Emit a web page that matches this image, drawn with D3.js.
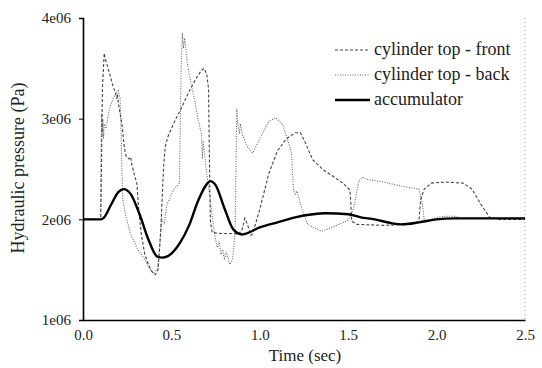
<!DOCTYPE html>
<html><head><meta charset="utf-8">
<script src="https://cdn.jsdelivr.net/npm/d3@7"></script>
<style>
html,body{margin:0;padding:0;background:#fff;}
svg{display:block;}
</style></head>
<body><svg id="chart" width="542" height="368"></svg>
<script>
// ---- data (pressure in units of 1e6 Pa) ----
const accT = [0,0.1,0.12,0.16,0.2,0.23,0.27,0.32,0.37,0.42,0.45,0.5,0.55,0.6,0.65,0.7,0.72,0.75,0.8,0.85,0.9,1.0,1.1,1.2,1.3,1.37,1.5,1.57,1.65,1.75,1.8,1.9,2.0,2.1,2.5];
const accP = [2.0,2.0,2.02,2.15,2.27,2.30,2.25,2.05,1.80,1.63,1.62,1.66,1.77,1.94,2.18,2.35,2.38,2.34,2.11,1.90,1.85,1.92,1.97,2.02,2.05,2.06,2.05,2.02,2.0,1.96,1.95,1.97,2.0,2.01,2.01];

const frontT = [0,0.1,0.105,0.11,0.12,0.125,0.15,0.17,0.185,0.19,0.195,0.2,0.22,0.235,0.245,0.26,0.27,0.275,0.29,0.305,0.315,0.33,0.35,0.37,0.39,0.41,0.425,0.44,0.455,0.465,0.48,0.52,0.56,0.6,0.64,0.67,0.685,0.7,0.71,0.715,0.72,0.73,0.78,0.85,0.88,0.9,0.915,0.93,0.95,0.96,1.0,1.05,1.1,1.15,1.2,1.23,1.26,1.3,1.36,1.42,1.47,1.51,1.515,1.52,1.55,1.7,1.85,1.9,1.91,1.93,1.97,2.05,2.15,2.2,2.25,2.3,2.35,2.5];
const frontP = [2.0,2.0,2.6,3.3,3.65,3.6,3.45,3.32,3.25,3.2,3.24,3.15,2.95,2.7,2.62,2.6,2.62,2.55,2.45,2.35,2.1,1.85,1.65,1.55,1.48,1.45,1.5,1.9,2.5,2.72,2.82,2.98,3.12,3.27,3.4,3.48,3.5,3.44,3.3,2.6,2.0,1.87,1.86,1.86,1.85,1.9,2.01,1.95,1.84,1.86,2.1,2.45,2.68,2.8,2.86,2.86,2.75,2.59,2.49,2.42,2.36,2.29,2.15,1.98,1.95,1.94,1.95,1.98,2.2,2.3,2.36,2.37,2.36,2.3,2.15,2.02,2.0,2.0];

const backT = [0,0.1,0.102,0.105,0.108,0.112,0.116,0.12,0.13,0.15,0.17,0.185,0.2,0.21,0.215,0.22,0.225,0.24,0.27,0.31,0.35,0.38,0.4,0.42,0.435,0.445,0.46,0.475,0.49,0.5,0.515,0.53,0.545,0.55,0.555,0.562,0.568,0.575,0.59,0.61,0.63,0.65,0.67,0.675,0.68,0.7,0.72,0.74,0.75,0.76,0.77,0.78,0.79,0.8,0.81,0.83,0.845,0.86,0.865,0.87,0.875,0.885,0.89,0.9,0.93,0.96,1.0,1.05,1.09,1.13,1.17,1.18,1.19,1.2,1.21,1.23,1.27,1.35,1.42,1.5,1.53,1.56,1.58,1.6,1.7,1.8,1.9,1.92,1.93,1.95,2.0,2.05,2.1,2.15,2.5];
const backP = [2.0,2.0,2.6,3.05,2.85,3.0,2.8,2.95,2.9,3.1,3.2,3.25,3.28,3.2,2.9,2.5,2.2,2.05,1.85,1.7,1.6,1.5,1.47,1.5,1.75,2.0,1.95,2.15,2.2,2.25,2.3,2.33,2.36,2.9,3.5,3.85,3.7,3.8,3.55,3.35,3.2,3.0,2.85,2.6,2.78,2.45,2.2,1.9,1.8,1.72,1.78,1.65,1.7,1.6,1.68,1.55,1.6,1.85,2.5,3.1,2.95,2.85,2.95,2.85,2.72,2.66,2.8,2.97,3.01,2.94,2.72,2.65,2.3,2.25,2.28,2.15,1.95,1.88,1.93,1.99,2.1,2.38,2.42,2.4,2.37,2.33,2.3,2.15,2.0,1.98,2.02,2.03,2.03,2.01,2.01];

const xTicks = [0,0.5,1.0,1.5,2.0,2.5];
const xTickLabels = ["0.0","0.5","1.0","1.5","2.0","2.5"];
const yTicks = [1,2,3,4];
const yTickLabels = ["1e06","2e06","3e06","4e06"];
const seriesNames = ["cylinder top - front","cylinder top - back","accumulator"];

// ---- drawing ----
const FONT = '"Liberation Serif"';
const svg = d3.select("#chart");
const L = 83, R = 525, T = 18, B = 320;
const x = d3.scaleLinear().domain([0,2.5]).range([L,R]);
const y = d3.scaleLinear().domain([1,4]).range([B,T]);

const line = d3.line().x(d => x(d[0])).y(d => y(d[1]));
const smooth = d3.line().x(d => x(d[0])).y(d => y(d[1])).curve(d3.curveMonotoneX);
const zip = (a,b) => a.map((v,i) => [v,b[i]]);

// right frame dotted
svg.append("line").attr("x1",R).attr("x2",R).attr("y1",T).attr("y2",B)
  .attr("stroke","#999").attr("stroke-width",1).attr("stroke-dasharray","1,3");

svg.append("path").datum(zip(backT,backP)).attr("d",line)
  .attr("fill","none").attr("stroke","#666").attr("stroke-width",1.1).attr("stroke-dasharray","1,1.5");
svg.append("path").datum(zip(frontT,frontP)).attr("d",line)
  .attr("fill","none").attr("stroke","#444").attr("stroke-width",1.1).attr("stroke-dasharray","3,2");
svg.append("path").datum(zip(accT,accP)).attr("d",smooth)
  .attr("fill","none").attr("stroke","#000").attr("stroke-width",2.4);

// axes
const xAxis = d3.axisBottom(x).tickValues(xTicks).tickSize(0).tickPadding(9)
  .tickFormat((d,i) => xTickLabels[i]);
const yAxis = d3.axisLeft(y).tickValues(yTicks).tickSize(4).tickPadding(8)
  .tickFormat((d,i) => yTickLabels[i]);

const gx = svg.append("g").attr("transform",`translate(0,${B})`).call(xAxis);
const gy = svg.append("g").attr("transform",`translate(${L},0)`).call(yAxis);
[gx,gy].forEach(g => {
  g.attr("font-family",null).attr("font-size",null);
  g.select(".domain").attr("stroke","#000").attr("stroke-width",1.6);
  g.selectAll(".tick line").attr("stroke","#000");
  g.selectAll("text").attr("fill","#222").style("font-family",FONT).style("font-size","15px");
});

// axis titles
svg.append("text").attr("x",305).attr("y",361).attr("text-anchor","middle")
  .style("font-family",FONT).style("font-size","17px").attr("fill","#222").text("Time (sec)");
svg.append("text").attr("transform","translate(24,168) rotate(-90)").attr("text-anchor","middle")
  .style("font-family",FONT).style("font-size","18px").attr("fill","#222").text("Hydraulic pressure (Pa)");

// legend
const legY = [50,75,100];
const legStyles = [
  {stroke:"#444", w:1.1, dash:"3,2"},
  {stroke:"#666", w:1.1, dash:"1,1.5"},
  {stroke:"#000", w:2.4, dash:null}
];
seriesNames.forEach((n,i) => {
  const s = legStyles[i];
  const l = svg.append("line").attr("x1",335).attr("x2",370).attr("y1",legY[i]).attr("y2",legY[i])
    .attr("stroke",s.stroke).attr("stroke-width",s.w);
  if (s.dash) l.attr("stroke-dasharray",s.dash);
  svg.append("text").attr("x",374).attr("y",legY[i]+5)
    .style("font-family",FONT).style("font-size","18px").attr("fill","#222").text(n);
});
</script></body></html>
